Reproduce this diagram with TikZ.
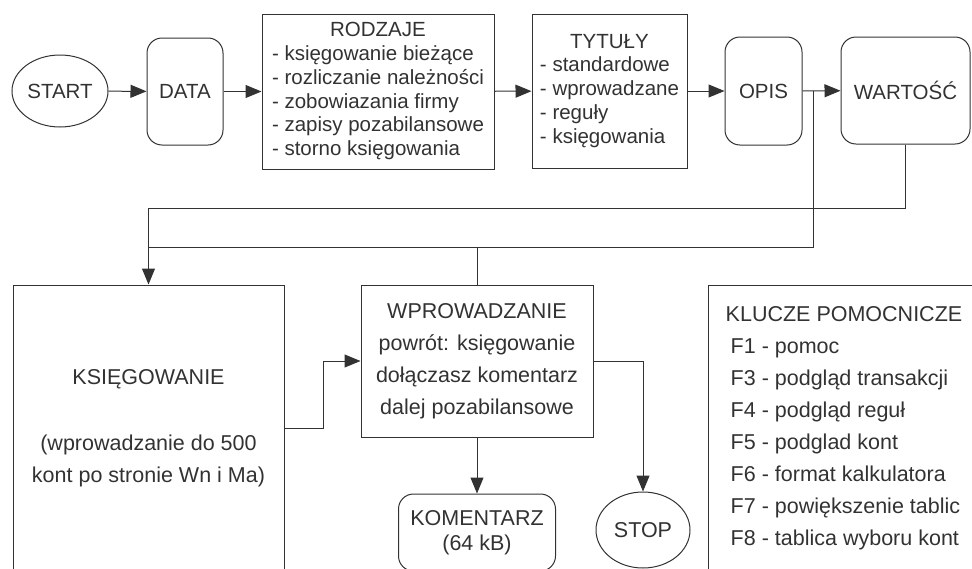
\documentclass[tikz,border=0pt]{standalone}
\usepackage{fontspec}
\setmainfont{Liberation Sans}
\usetikzlibrary{shapes.geometric,arrows.meta}
\definecolor{ink}{RGB}{50,50,50}
\tikzset{
  every node/.style={text=ink},
  topfont/.style={font=\fontsize{20.5}{23.8}\selectfont},
  botfont/.style={font=\fontsize{21.5}{32}\selectfont},
  box/.style={draw=ink, line width=1pt, rectangle, inner sep=0pt},
  rbox/.style={box, rounded corners=15pt},
  oval/.style={draw=ink, line width=1pt, ellipse, inner sep=0pt},
  conn/.style={draw=ink, line width=1pt},
  arr/.style={conn, -{Triangle[length=16pt,width=13pt]}},
}
\begin{document}
\begin{tikzpicture}[x=1pt,y=-1pt]
\useasboundingbox (0,0) rectangle (972,568);
% top row
\node[oval, topfont, minimum width=96pt, minimum height=72pt] (start) at (60,91) {START};
\node[rbox, topfont, minimum width=76pt, minimum height=107pt] (data) at (185,91.5) {DATA};
\node[box, topfont, minimum width=232pt, minimum height=155pt] (rodz) at (378,91.5)
  {\begin{tabular}{@{}l@{}}\multicolumn{1}{@{}c@{}}{RODZAJE}\\
   - księgowanie bieżące\\
   - rozliczanie należności\\
   - zobowiazania firmy\\
   - zapisy pozabilansowe\\
   - storno księgowania\end{tabular}};
\node[box, topfont, minimum width=155pt, minimum height=154pt] (tyt) at (609.5,91)
  {\begin{tabular}{@{}l@{}}\multicolumn{1}{@{}c@{}}{TYTUŁY}\\
   - standardowe\\
   - wprowadzane\\
   - reguły\\
   - księgowania\end{tabular}};
\node[rbox, topfont, minimum width=77pt, minimum height=108pt] (opis) at (763.5,91) {OPIS};
\node[rbox, topfont, minimum width=129pt, minimum height=107pt] (wart) at (905.5,90.5) {WARTOŚĆ};
% bottom row
\node[box, botfont, minimum width=271pt, minimum height=287pt, align=center] (ksieg) at (148.5,428.5)
  {KSIĘGOWANIE\\[34pt]
   \fontsize{21.5}{30}\selectfont(wprowadzanie do 500\\
   kont po stronie Wn i Ma)};
\node[box, botfont, minimum width=232pt, minimum height=152pt, align=center] (wpr) at (477,361)
  {WPROWADZANIE\\
   powrót: księgowanie\\
   dołączasz komentarz\\
   dalej pozabilansowe};
\node[rbox, font=\fontsize{21.5}{25}\selectfont, minimum width=157pt, minimum height=77pt, align=center] (kom) at (477,532.5)
  {KOMENTARZ\\(64 kB)};
\node[oval, botfont, minimum width=94pt, minimum height=76pt] (stop) at (643,530) {STOP};
\node[box, botfont, minimum width=272pt, minimum height=287pt, align=left] (klu) at (844,428.5)
  {KLUCZE POMOCNICZE\\
   \hspace*{5pt}F1 - pomoc\\
   \hspace*{5pt}F3 - podgląd transakcji\\
   \hspace*{5pt}F4 - podgląd reguł\\
   \hspace*{5pt}F5 - podglad kont\\
   \hspace*{5pt}F6 - format kalkulatora\\
   \hspace*{5pt}F7 - powiększenie tablic\\
   \hspace*{5pt}F8 - tablica wyboru kont};
% helper coordinates
\coordinate (j1) at (813,91);
\coordinate (h1) at (148.5,208);
\coordinate (h2) at (148.5,247);
% connectors
\draw[arr] (start) -- (data);
\draw[arr] (data) -- (rodz);
\draw[arr] (rodz) -- (tyt);
\draw[arr] (tyt) -- (opis);
\draw[arr] (opis) -- (wart);
\draw[conn] (wart.south) |- (h1);
\draw[arr] (h1) -- (ksieg.north);
\draw[conn] (j1) |- (h2);
\draw[conn] (wpr.north) -- (wpr.north |- h2);
\draw[arr] (ksieg.east) -- ++(39,0) |- (wpr.west);
\draw[arr] (wpr.south) -- (kom.north);
\draw[arr] (wpr.east) -| (stop.north);
\end{tikzpicture}
\end{document}
